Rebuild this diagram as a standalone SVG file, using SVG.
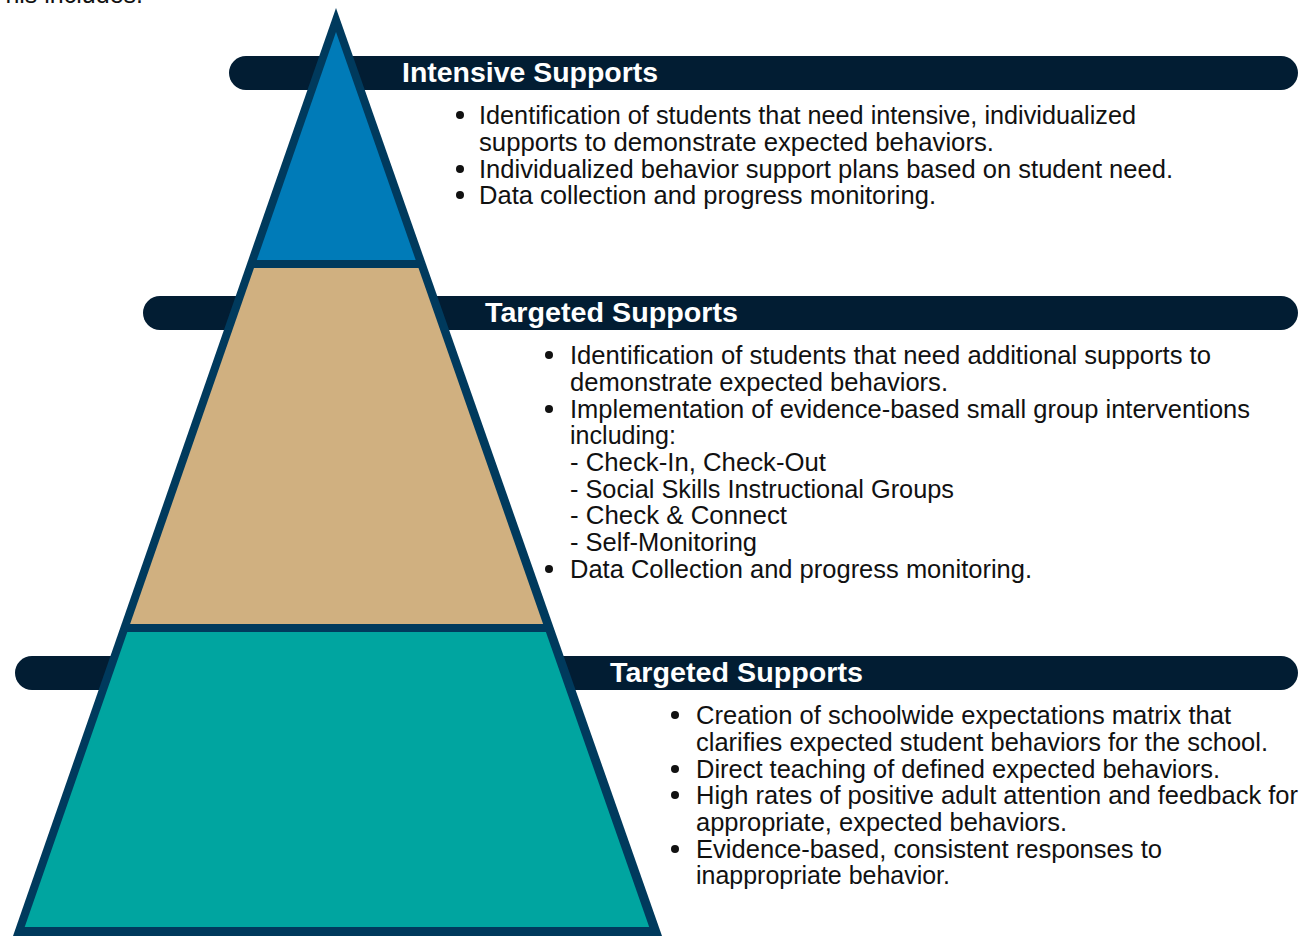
<svg xmlns="http://www.w3.org/2000/svg" width="1312" height="936" viewBox="0 0 1312 936">
<style>
.bar{fill:#021d33}
.edge{fill:#003a5d}
.title{font-family:"Liberation Sans",Arial,sans-serif;font-weight:bold;font-size:27px;fill:#ffffff}
.body{font-family:"Liberation Sans",Arial,sans-serif;font-size:25px;fill:#111111}
.dot{fill:#111111}
</style>
<rect width="1312" height="936" fill="#ffffff"/>
<text class="body" x="143" y="3" text-anchor="end">This includes.</text>
<g id="bars">
<rect class="bar" x="229" y="56" width="1069" height="34" rx="17"/>
<rect class="bar" x="143" y="296" width="1155" height="34" rx="17"/>
<rect class="bar" x="15" y="656" width="1283" height="34" rx="17"/>
</g>
<g id="pyramid">
<polygon class="edge" points="336,8 13,936 662,936"/>
<polygon id="tier-top" fill="#007bb8" points="336,32 256.8,260 415.7,260"/>
<polygon id="tier-mid" fill="#d0b080" points="254,268 418.5,268 543.1,624 130.1,624"/>
<polygon id="tier-bottom" fill="#00a5a0" points="127.3,632 545.9,632 649.2,927 24.7,927"/>
</g>
<g id="intensive">
<text class="title" x="402" y="82" textLength="256" lengthAdjust="spacingAndGlyphs">Intensive Supports</text>
<circle class="dot" cx="460" cy="115" r="4"/>
<circle class="dot" cx="460" cy="169" r="4"/>
<circle class="dot" cx="460" cy="195" r="4"/>
<text class="body" x="479" y="124" textLength="657" lengthAdjust="spacingAndGlyphs">Identification of students that need intensive, individualized</text>
<text class="body" x="479" y="151" textLength="515" lengthAdjust="spacingAndGlyphs">supports to demonstrate expected behaviors.</text>
<text class="body" x="479" y="178" textLength="694" lengthAdjust="spacingAndGlyphs">Individualized behavior support plans based on student need.</text>
<text class="body" x="479" y="204" textLength="457" lengthAdjust="spacingAndGlyphs">Data collection and progress monitoring.</text>
</g>
<g id="targeted">
<text class="title" x="485" y="322" textLength="253" lengthAdjust="spacingAndGlyphs">Targeted Supports</text>
<circle class="dot" cx="549" cy="355" r="4"/>
<circle class="dot" cx="549" cy="409" r="4"/>
<circle class="dot" cx="549" cy="569" r="4"/>
<text class="body" x="570" y="364" textLength="641" lengthAdjust="spacingAndGlyphs">Identification of students that need additional supports to</text>
<text class="body" x="570" y="391" textLength="378" lengthAdjust="spacingAndGlyphs">demonstrate expected behaviors.</text>
<text class="body" x="570" y="418" textLength="680" lengthAdjust="spacingAndGlyphs">Implementation of evidence-based small group interventions</text>
<text class="body" x="570" y="444" textLength="106" lengthAdjust="spacingAndGlyphs">including:</text>
<text class="body" x="570" y="471" textLength="256" lengthAdjust="spacingAndGlyphs">- Check-In, Check-Out</text>
<text class="body" x="570" y="498" textLength="384" lengthAdjust="spacingAndGlyphs">- Social Skills Instructional Groups</text>
<text class="body" x="570" y="524" textLength="217" lengthAdjust="spacingAndGlyphs">- Check &amp; Connect</text>
<text class="body" x="570" y="551" textLength="187" lengthAdjust="spacingAndGlyphs">- Self-Monitoring</text>
<text class="body" x="570" y="578" textLength="462" lengthAdjust="spacingAndGlyphs">Data Collection and progress monitoring.</text>
</g>
<g id="universal">
<text class="title" x="610" y="682" textLength="253" lengthAdjust="spacingAndGlyphs">Targeted Supports</text>
<circle class="dot" cx="675" cy="715" r="4"/>
<circle class="dot" cx="675" cy="769" r="4"/>
<circle class="dot" cx="675" cy="795" r="4"/>
<circle class="dot" cx="675" cy="849" r="4"/>
<text class="body" x="696" y="724" textLength="535" lengthAdjust="spacingAndGlyphs">Creation of schoolwide expectations matrix that</text>
<text class="body" x="696" y="751" textLength="572" lengthAdjust="spacingAndGlyphs">clarifies expected student behaviors for the school.</text>
<text class="body" x="696" y="778" textLength="524" lengthAdjust="spacingAndGlyphs">Direct teaching of defined expected behaviors.</text>
<text class="body" x="696" y="804" textLength="602" lengthAdjust="spacingAndGlyphs">High rates of positive adult attention and feedback for</text>
<text class="body" x="696" y="831" textLength="371" lengthAdjust="spacingAndGlyphs">appropriate, expected behaviors.</text>
<text class="body" x="696" y="858" textLength="466" lengthAdjust="spacingAndGlyphs">Evidence-based, consistent responses to</text>
<text class="body" x="696" y="884" textLength="254" lengthAdjust="spacingAndGlyphs">inappropriate behavior.</text>
</g>
</svg>
